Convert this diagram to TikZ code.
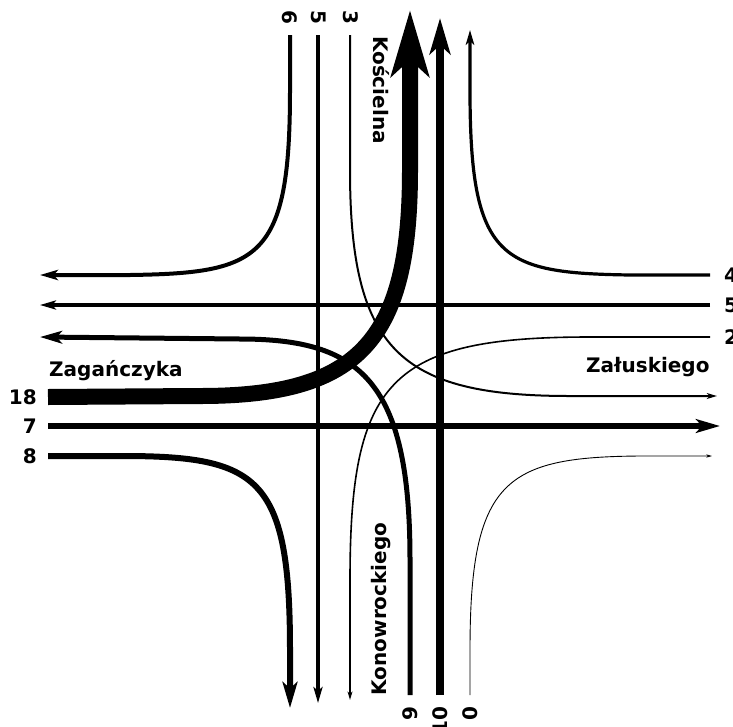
\documentclass[tikz,border=0pt]{standalone}
\usepackage{fontspec}
\setmainfont{DejaVu Sans}
\usetikzlibrary{arrows.meta}
\tikzset{lane/.style={line width=#1,-{Stealth[length=2pt 4,width'=0pt 0.57,inset'=0pt 0.25]}}}
\begin{document}
\begin{tikzpicture}[x=1pt,y=-1pt,every node/.style={font=\bfseries\fontsize{20}{24}\selectfont,inner sep=0pt}]
  \useasboundingbox (0,0) rectangle (733,726);
  \coordinate (n6) at (290,35); \coordinate (n5) at (318,35); \coordinate (n3) at (350,35);
  \coordinate (s9) at (410,695); \coordinate (s10) at (440,695); \coordinate (s0) at (470,695);
  \coordinate (w18) at (48,397); \coordinate (w7) at (48,426); \coordinate (w8) at (48,456);
  \coordinate (e4) at (710,275); \coordinate (e5) at (710,305); \coordinate (e2) at (710,337);
  \coordinate (o6) at (40,275); \coordinate (o5) at (318,703); \coordinate (o3) at (717,396);
  \coordinate (o9) at (40,337); \coordinate (o10) at (440,18); \coordinate (o0) at (712,456);
  \coordinate (o18) at (410,10); \coordinate (o7) at (720,426); \coordinate (o8) at (290,708);
  \coordinate (o4) at (470,30); \coordinate (o5w) at (40,305); \coordinate (o2) at (350,700);
  \draw[lane=4pt] (n6) -- (290,90) .. controls (290,260) and (260,273) .. (130,275) -- (o6);
  \draw[lane=3.5pt] (n5) -- (o5);
  \draw[lane=2pt] (n3) -- (350,170) .. controls (350,350) and (400,396) .. (570,396) -- (o3);
  \draw[lane=5pt] (s9) -- (410,560) .. controls (410,380) and (360,339) .. (240,339) -- (o9);
  \draw[lane=8.5pt] (s10) -- (o10);
  \draw[lane=0.9pt] (s0) -- (470,650) .. controls (470,480) and (505,457) .. (640,456) -- (o0);
  \draw[lane=16pt] (w18) -- (200,396) .. controls (360,396) and (410,340) .. (410,170) -- (o18);
  \draw[lane=5.5pt] (w7) -- (o7);
  \draw[lane=6pt] (w8) -- (130,456) .. controls (260,457) and (290,480) .. (290,650) -- (o8);
  \draw[lane=3.2pt] (e4) -- (630,275) .. controls (500,273) and (470,260) .. (470,90) -- (o4);
  \draw[lane=3.5pt] (e5) -- (o5w);
  \draw[lane=1.6pt] (e2) -- (590,337) .. controls (390,337) and (350,380) .. (350,580) -- (o2);
  \node[anchor=east] (l18) at (37,397) {18};
  \node[anchor=east] (l7) at (37,426) {7};
  \node[anchor=east] (l8) at (37,456) {8};
  \node[anchor=west] (l4) at (724,275) {4};
  \node[anchor=west] (l5e) at (724,305) {5};
  \node[anchor=west] (l2) at (724,337) {2};
  \node[rotate=-90] (l6) at (290,17) {6};
  \node[rotate=-90] (l5n) at (319,17) {5};
  \node[rotate=-90] (l3) at (351,17) {3};
  \node[rotate=90,anchor=east] (l9) at (410,706) {9};
  \node[rotate=90,anchor=east] (l10) at (440,706) {10};
  \node[rotate=90,anchor=east] (l0) at (470,706) {0};
  \node[anchor=base west] (zag) at (49,376) {Zagańczyka};
  \node[anchor=base west] (zal) at (586,372) {Załuskiego};
  \node[rotate=-90] (kos) at (381,90) {Kościelna};
  \node[rotate=90] (kon) at (381,609) {Konowrockiego};
\end{tikzpicture}
\end{document}
